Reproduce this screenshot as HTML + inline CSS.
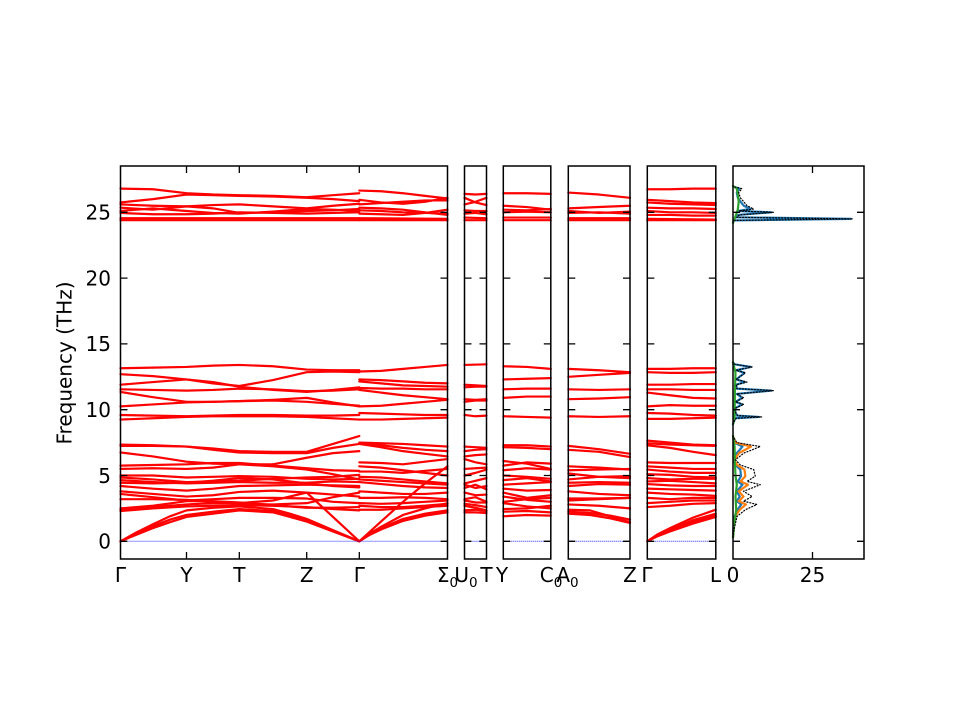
<!DOCTYPE html>
<html><head><meta charset="utf-8"><style>
html,body{margin:0;padding:0;background:#fff;}
svg{display:block;}
.d polyline{fill:none;vector-effect:non-scaling-stroke;stroke-linejoin:round;stroke-linecap:round;}
.b polyline{stroke:#ff0000;stroke-width:2.2;}
text{font-family:"DejaVu Sans","Liberation Sans",sans-serif;font-size:20px;fill:#000;}
</style></head><body>
<svg width="960" height="720" viewBox="0 0 960 720" xmlns="http://www.w3.org/2000/svg">
<rect width="960" height="720" fill="#fff"/>
<g class="d b" transform="matrix(1 0 0 -13.16 0 541.3)">
<!-- panel 1 left high -->
<polyline points="120.5,26.8 153,26.75 186.5,26.45 213,26.35 239.3,26.3 273,26.25 306.7,26.15 333,26.3 359.3,26.45"/>
<polyline points="120.5,25.75 153,26.0 186.5,26.35 213,26.3 239.3,26.25 273,26.2 306.7,26.1 333,26.0 359.3,25.85"/>
<polyline points="120.5,25.6 153,25.5 186.5,25.45 213,25.55 239.3,25.6 273,25.45 306.7,25.3 333,25.5 359.3,25.65"/>
<polyline points="120.5,25.35 153,25.2 186.5,25.45 213,25.3 239.3,24.95 273,25.0 306.7,25.1 333,25.15 359.3,25.25"/>
<polyline points="120.5,25.1 153,25.3 186.5,25.1 213,24.95 239.3,24.9 273,25.05 306.7,25.25 333,25.2 359.3,25.1"/>
<polyline points="120.5,24.95 153,24.85 186.5,24.85 213,24.9 239.3,25.0 273,24.95 306.7,24.9 333,24.95 359.3,25.0"/>
<polyline points="120.5,24.55 359.3,24.55"/>
<polyline points="120.5,24.4 359.3,24.4"/>
<!-- panel 1 right high -->
<polyline points="359.3,26.65 381,26.6 403,26.45 425,26.25 447.5,26.05"/>
<polyline points="359.3,25.95 381,25.75 403,25.65 425,25.8 447.5,26.1"/>
<polyline points="359.3,25.6 381,25.7 403,25.8 425,25.9 447.5,25.9"/>
<polyline points="359.3,25.35 381,25.3 403,25.2 425,25.0 447.5,24.8"/>
<polyline points="359.3,25.15 381,25.1 403,25.0 425,24.95 447.5,24.9"/>
<polyline points="359.3,24.9 381,24.85 403,24.8 425,24.95 447.5,25.2"/>
<polyline points="359.3,24.55 447.5,24.5"/>
<polyline points="359.3,24.4 447.5,24.4"/>
<!-- panel 1 left mid -->
<polyline points="120.5,13.15 153,13.2 186.5,13.25 213,13.35 239.3,13.4 273,13.3 306.7,13.05 333,13.0 359.3,13.0"/>
<polyline points="120.5,12.7 153,12.55 186.5,12.3 213,12.0 239.3,11.8 273,12.25 306.7,12.85 333,12.9 359.3,12.85"/>
<polyline points="120.5,11.9 153,12.1 186.5,12.3 213,12.1 239.3,11.75 273,11.5 306.7,11.35 333,11.5 359.3,11.7"/>
<polyline points="120.5,11.55 153,11.5 186.5,11.45 213,11.5 239.3,11.6 273,11.55 306.7,11.4 333,11.45 359.3,11.55"/>
<polyline points="120.5,11.35 153,10.95 186.5,10.6 213,10.6 239.3,10.65 273,10.75 306.7,10.9 333,10.55 359.3,10.25"/>
<polyline points="120.5,10.25 153,10.4 186.5,10.55 213,10.6 239.3,10.65 273,10.7 306.7,10.6 333,10.45 359.3,10.3"/>
<polyline points="120.5,9.6 153,9.55 186.5,9.5 213,9.55 239.3,9.6 273,9.6 306.7,9.55 333,9.55 359.3,9.6"/>
<polyline points="120.5,9.25 153,9.35 186.5,9.45 213,9.5 239.3,9.5 273,9.5 306.7,9.45 333,9.35 359.3,9.25"/>
<!-- panel 1 right mid -->
<polyline points="359.3,12.9 381,12.95 403,13.1 425,13.25 447.5,13.4"/>
<polyline points="359.3,12.3 381,12.25 403,12.15 425,12.05 447.5,12.0"/>
<polyline points="359.3,12.15 381,12.0 403,11.85 425,11.8 447.5,11.75"/>
<polyline points="359.3,11.65 381,11.6 403,11.6 425,11.55 447.5,11.55"/>
<polyline points="359.3,11.5 381,11.3 403,11.1 425,10.95 447.5,10.8"/>
<polyline points="359.3,10.25 381,10.3 403,10.45 425,10.6 447.5,10.75"/>
<polyline points="359.3,9.75 381,9.7 403,9.65 425,9.6 447.5,9.6"/>
<polyline points="359.3,9.25 381,9.25 403,9.3 425,9.35 447.5,9.4"/>
<!-- panel 1 left low -->
<polyline points="120.5,7.35 153,7.3 186.5,7.2 213,7.05 239.3,6.85 273,6.8 306.7,6.8 333,7.4 359.3,8.0"/>
<polyline points="120.5,7.25 153,7.25 186.5,7.2 213,6.95 239.3,6.75 273,6.7 306.7,6.7 333,7.1 359.3,7.4"/>
<polyline points="120.5,6.75 153,6.45 186.5,6.05 213,5.9 239.3,5.85 273,5.85 306.7,6.35 333,6.7 359.3,6.85"/>
<polyline points="120.5,5.75 153,5.8 186.5,5.85 213,5.95 239.3,5.95 273,5.75 306.7,5.55 333,5.4 359.3,5.35"/>
<polyline points="120.5,5.5 153,5.55 186.5,5.5 213,5.6 239.3,5.85 273,5.7 306.7,5.45 333,5.1 359.3,4.7"/>
<polyline points="120.5,5.0 153,5.0 186.5,4.85 213,4.9 239.3,4.95 273,4.9 306.7,4.75 333,4.7 359.3,4.75"/>
<polyline points="120.5,4.85 153,4.7 186.5,4.5 213,4.55 239.3,4.6 273,4.75 306.7,4.85 333,4.9 359.3,5.05"/>
<polyline points="120.5,4.65 153,4.5 186.5,4.4 213,4.45 239.3,4.5 273,4.45 306.7,4.45 333,4.55 359.3,4.5"/>
<polyline points="120.5,4.45 153,4.4 186.5,4.45 213,4.6 239.3,4.8 273,4.7 306.7,4.4 333,4.2 359.3,4.1"/>
<polyline points="120.5,4.2 153,4.0 186.5,3.85 213,4.0 239.3,4.2 273,4.25 306.7,4.3 333,4.25 359.3,4.2"/>
<polyline points="120.5,3.8 153,3.6 186.5,3.4 213,3.5 239.3,3.75 273,3.85 306.7,3.7 333,3.55 359.3,3.4"/>
<polyline points="120.5,3.6 153,3.35 186.5,3.1 213,3.2 239.3,3.3 273,3.3 306.7,3.25 333,3.0 359.3,2.9"/>
<polyline points="120.5,3.2 153,3.2 186.5,3.15 213,3.0 239.3,2.85 273,2.8 306.7,2.9 333,3.35 359.3,3.7"/>
<polyline points="120.5,2.5 153,2.7 186.5,3.05 213,3.05 239.3,2.95 273,2.75 306.7,2.55 333,2.55 359.3,2.6"/>
<polyline points="120.5,2.3 153,2.5 186.5,2.65 213,2.7 239.3,2.75 273,2.7 306.7,2.6 333,2.45 359.3,2.35"/>
<polyline points="120.5,0 137,0.7 153,1.3 170,1.9 186.5,2.35 213,2.55 239.3,2.65 273,2.45 290,2.1 306.7,1.7 333,0.85 359.3,0"/>
<polyline points="120.5,0 137,0.6 153,1.15 170,1.65 186.5,2.0 213,2.25 239.3,2.45 273,2.3 290,1.95 306.7,1.6 333,0.8 359.3,0"/>
<polyline points="120.5,0 137,0.52 153,1.0 170,1.45 186.5,1.85 213,2.1 239.3,2.35 273,2.2 290,1.85 306.7,1.5 333,0.75 359.3,0"/>
<polyline points="120.5,2.4 153,2.6 186.5,2.8 213,2.9 239.3,2.9 273,3.1 306.7,3.7 333,1.85 359.3,0"/>
<!-- panel 1 right low -->
<polyline points="359.3,7.5 381,7.45 403,7.4 425,7.3 447.5,7.2"/>
<polyline points="359.3,7.45 381,7.3 403,7.1 425,6.95 447.5,6.85"/>
<polyline points="359.3,7.4 381,7.15 403,6.85 425,6.65 447.5,6.45"/>
<polyline points="359.3,6.0 381,5.95 403,5.85 425,6.05 447.5,6.25"/>
<polyline points="359.3,5.7 381,5.6 403,5.4 425,5.2 447.5,5.0"/>
<polyline points="359.3,5.3 381,5.3 403,5.2 425,5.35 447.5,5.5"/>
<polyline points="359.3,4.9 381,4.85 403,4.7 425,4.55 447.5,4.4"/>
<polyline points="359.3,4.7 381,4.6 403,4.5 425,4.4 447.5,4.3"/>
<polyline points="359.3,4.5 381,4.35 403,4.2 425,4.1 447.5,4.05"/>
<polyline points="359.3,3.8 381,3.7 403,3.6 425,3.6 447.5,3.7"/>
<polyline points="359.3,3.3 381,3.3 403,3.35 425,3.3 447.5,3.2"/>
<polyline points="359.3,2.9 381,2.85 403,2.9 425,3.0 447.5,3.1"/>
<polyline points="359.3,2.7 381,2.6 403,2.6 425,2.7 447.5,2.85"/>
<polyline points="359.3,2.4 381,2.4 403,2.5 425,2.6 447.5,2.7"/>
<polyline points="359.3,0 381,1.5 403,3.0 425,4.4 447.5,5.7"/>
<polyline points="359.3,0 370,0.55 381,1.0 403,1.7 425,2.1 447.5,2.35"/>
<polyline points="359.3,0 370,0.5 381,0.9 403,1.55 425,1.95 447.5,2.2"/>
<polyline points="359.3,0 370,0.6 381,1.1 403,2.0 425,2.5 447.5,2.9"/>
<!-- panel 2 -->
<polyline points="464.5,26.4 475.5,26.35 486.5,26.4"/>
<polyline points="464.5,26.1 475.5,25.75 486.5,25.55"/>
<polyline points="464.5,25.6 475.5,25.8 486.5,26.1"/>
<polyline points="464.5,25.15 475.5,25.1 486.5,25.1"/>
<polyline points="464.5,24.9 475.5,24.95 486.5,24.85"/>
<polyline points="464.5,24.6 486.5,24.55"/>
<polyline points="464.5,24.4 486.5,24.4"/>
<polyline points="464.5,13.4 486.5,13.45"/>
<polyline points="464.5,11.9 475.5,11.85 486.5,11.8"/>
<polyline points="464.5,11.7 475.5,11.75 486.5,11.75"/>
<polyline points="464.5,10.8 475.5,10.75 486.5,10.8"/>
<polyline points="464.5,10.6 475.5,10.7 486.5,10.7"/>
<polyline points="464.5,9.6 475.5,9.5 486.5,9.55"/>
<polyline points="464.5,7.2 475.5,7.15 486.5,7.1"/>
<polyline points="464.5,6.85 475.5,6.95 486.5,7.0"/>
<polyline points="464.5,6.45 475.5,6.55 486.5,6.6"/>
<polyline points="464.5,6.25 475.5,6.0 486.5,5.85"/>
<polyline points="464.5,5.5 475.5,5.55 486.5,5.6"/>
<polyline points="464.5,5.0 475.5,5.2 486.5,5.45"/>
<polyline points="464.5,4.4 475.5,4.6 486.5,4.8"/>
<polyline points="464.5,4.3 475.5,4.05 486.5,4.2"/>
<polyline points="464.5,4.05 475.5,4.3 486.5,3.95"/>
<polyline points="464.5,3.7 475.5,3.5 486.5,3.55"/>
<polyline points="464.5,3.2 475.5,3.35 486.5,3.0"/>
<polyline points="464.5,3.1 475.5,2.95 486.5,2.95"/>
<polyline points="464.5,2.85 475.5,2.75 486.5,2.6"/>
<polyline points="464.5,2.7 475.5,2.55 486.5,2.35"/>
<polyline points="464.5,2.35 475.5,2.4 486.5,2.3"/>
<polyline points="464.5,2.2 475.5,2.2 486.5,2.15"/>
<!-- panel 3 -->
<polyline points="503.3,26.45 527,26.45 550.8,26.4"/>
<polyline points="503.3,25.5 527,25.4 550.8,25.2"/>
<polyline points="503.3,25.2 527,25.15 550.8,25.25"/>
<polyline points="503.3,25.0 527,25.05 550.8,25.0"/>
<polyline points="503.3,24.6 550.8,24.6"/>
<polyline points="503.3,24.4 550.8,24.4"/>
<polyline points="503.3,13.3 527,13.25 550.8,13.1"/>
<polyline points="503.3,12.3 527,12.35 550.8,12.4"/>
<polyline points="503.3,11.55 527,11.6 550.8,11.6"/>
<polyline points="503.3,10.9 527,11.0 550.8,11.0"/>
<polyline points="503.3,9.5 527,9.45 550.8,9.4"/>
<polyline points="503.3,7.3 527,7.3 550.8,7.2"/>
<polyline points="503.3,7.15 527,7.1 550.8,7.0"/>
<polyline points="503.3,6.1 527,5.9 550.8,5.5"/>
<polyline points="503.3,5.75 527,6.0 550.8,5.9"/>
<polyline points="503.3,5.4 527,5.55 550.8,5.45"/>
<polyline points="503.3,5.0 527,4.9 550.8,4.75"/>
<polyline points="503.3,4.65 527,4.8 550.8,4.55"/>
<polyline points="503.3,4.3 527,4.4 550.8,4.5"/>
<polyline points="503.3,4.0 527,3.85 550.8,3.9"/>
<polyline points="503.3,3.7 527,3.3 550.8,3.5"/>
<polyline points="503.3,3.4 527,3.15 550.8,3.0"/>
<polyline points="503.3,3.0 527,3.2 550.8,3.3"/>
<polyline points="503.3,2.9 527,2.65 550.8,2.5"/>
<polyline points="503.3,2.45 527,2.5 550.8,2.7"/>
<polyline points="503.3,2.25 527,2.3 550.8,2.2"/>
<polyline points="503.3,1.9 527,2.0 550.8,1.95"/>
<!-- panel 4 -->
<polyline points="568.3,26.5 599,26.35 630,26.1"/>
<polyline points="568.3,25.3 599,25.4 630,25.5"/>
<polyline points="568.3,25.1 599,24.95 630,25.05"/>
<polyline points="568.3,24.95 599,25.0 630,24.9"/>
<polyline points="568.3,24.55 630,24.55"/>
<polyline points="568.3,24.4 630,24.4"/>
<polyline points="568.3,13.1 599,13.0 630,12.85"/>
<polyline points="568.3,12.5 599,12.65 630,12.8"/>
<polyline points="568.3,11.55 599,11.5 630,11.55"/>
<polyline points="568.3,10.8 599,10.85 630,10.95"/>
<polyline points="568.3,9.5 599,9.45 630,9.5"/>
<polyline points="568.3,7.25 599,7.0 630,6.65"/>
<polyline points="568.3,6.95 599,6.8 630,6.4"/>
<polyline points="568.3,5.7 599,5.6 630,5.45"/>
<polyline points="568.3,5.4 599,5.45 630,5.5"/>
<polyline points="568.3,5.15 599,4.9 630,4.8"/>
<polyline points="568.3,4.7 599,4.9 630,4.95"/>
<polyline points="568.3,4.45 599,4.5 630,4.45"/>
<polyline points="568.3,4.2 599,4.35 630,4.3"/>
<polyline points="568.3,3.8 599,3.6 630,3.5"/>
<polyline points="568.3,3.25 599,3.25 630,3.3"/>
<polyline points="568.3,3.1 599,3.2 630,3.3"/>
<polyline points="568.3,2.8 599,2.7 630,2.5"/>
<polyline points="568.3,2.4 590,2.35 610,1.9 630,1.45"/>
<polyline points="568.3,2.25 590,2.15 610,1.95 630,1.65"/>
<polyline points="568.3,2.1 590,2.0 610,1.75 630,1.4"/>
<!-- panel 5 -->
<polyline points="647.3,26.75 670,26.75 693,26.8 715.8,26.8"/>
<polyline points="647.3,25.95 670,25.85 693,25.75 715.8,25.7"/>
<polyline points="647.3,25.75 670,25.65 693,25.6 715.8,25.55"/>
<polyline points="647.3,25.35 670,25.3 693,25.3 715.8,25.25"/>
<polyline points="647.3,25.1 670,25.0 693,25.0 715.8,24.95"/>
<polyline points="647.3,24.8 670,24.8 693,24.75 715.8,24.75"/>
<polyline points="647.3,24.5 715.8,24.45"/>
<polyline points="647.3,24.4 715.8,24.4"/>
<polyline points="647.3,13.1 670,13.1 693,13.15 715.8,13.15"/>
<polyline points="647.3,12.85 670,12.8 693,12.8 715.8,12.85"/>
<polyline points="647.3,11.9 670,11.9 693,11.95 715.8,11.95"/>
<polyline points="647.3,11.55 670,11.55 693,11.5 715.8,11.5"/>
<polyline points="647.3,11.3 670,11.1 693,10.9 715.8,10.85"/>
<polyline points="647.3,10.25 670,10.35 693,10.3 715.8,10.3"/>
<polyline points="647.3,9.75 670,9.7 693,9.6 715.8,9.55"/>
<polyline points="647.3,9.3 670,9.3 693,9.35 715.8,9.4"/>
<polyline points="647.3,7.65 670,7.5 693,7.35 715.8,7.3"/>
<polyline points="647.3,7.45 670,7.35 693,7.3 715.8,7.25"/>
<polyline points="647.3,7.3 670,7.1 693,6.8 715.8,6.55"/>
<polyline points="647.3,6.0 670,5.95 693,5.95 715.8,5.95"/>
<polyline points="647.3,5.7 670,5.6 693,5.5 715.8,5.5"/>
<polyline points="647.3,5.45 670,5.3 693,5.2 715.8,5.2"/>
<polyline points="647.3,5.1 670,5.05 693,4.9 715.8,4.85"/>
<polyline points="647.3,4.8 670,4.7 693,4.75 715.8,4.75"/>
<polyline points="647.3,4.55 670,4.6 693,4.5 715.8,4.4"/>
<polyline points="647.3,4.35 670,4.25 693,4.2 715.8,4.2"/>
<polyline points="647.3,4.0 670,3.95 693,3.9 715.8,3.85"/>
<polyline points="647.3,3.7 670,3.6 693,3.55 715.8,3.45"/>
<polyline points="647.3,3.3 670,3.2 693,3.3 715.8,3.3"/>
<polyline points="647.3,2.9 670,3.0 693,3.1 715.8,3.1"/>
<polyline points="647.3,2.6 670,2.7 693,2.85 715.8,2.9"/>
<polyline points="647.3,0 658,0.5 670,0.9 693,1.6 715.8,2.1"/>
<polyline points="647.3,0 658,0.45 670,0.85 693,1.5 715.8,1.95"/>
<polyline points="647.3,0 658,0.4 670,0.75 693,1.35 715.8,1.85"/>
<polyline points="647.3,0 658,0.55 670,1.0 693,1.8 715.8,2.4"/>
</g>
<!-- zero dotted lines -->
<g stroke="#0000ff" stroke-width="1" stroke-dasharray="1 1" opacity="0.85">
<line x1="120.5" y1="541.3" x2="447.5" y2="541.3"/>
<line x1="464.5" y1="541.3" x2="486.5" y2="541.3"/>
<line x1="503.3" y1="541.3" x2="550.8" y2="541.3"/>
<line x1="568.3" y1="541.3" x2="630" y2="541.3"/>
<line x1="647.3" y1="541.3" x2="715.8" y2="541.3"/>
</g>
<!-- DOS -->
<g class="d" transform="matrix(1 0 0 -13.16 0 541.3)">
<g stroke="#1f77b4" stroke-width="2.2">
<polyline points="733,0.3 733.3,0.9 734.6,1.9 737.5,2.4 741.3,2.8 736.8,3.05 739.7,3.4 736.8,3.8 742.5,4.3 737.8,4.55 741,4.95 740.3,5.45 735.5,5.8 734,6.2 736.8,6.7 742.5,7.2 734.3,7.5 733,8.0"/>
<polyline points="733,8.9 734.5,9.2 735.5,9.35 759,9.45 737,9.55 735.5,9.8 734.9,10.1 742.2,10.4 735.5,10.6 742.2,10.9 736.8,11.2 771,11.45 736.8,11.6 736.2,11.9 745,12.1 736.2,12.3 744.5,12.8 736.2,13.0 751,13.25 734.5,13.45 733,13.6"/>
<polyline points="733,24.2 733.6,24.38 850.7,24.5 736.2,24.62 738.1,24.8 771.2,25.0 738,25.1 750.5,25.25 743.8,25.5 740.6,25.8 737.8,26.1 736.8,26.5 739.4,26.8 733.6,26.95 733,27"/>
</g>
<g stroke="#ff7f0e" stroke-width="2.2">
<polyline points="733,0.3 733.6,0.9 735.2,1.9 739.7,2.4 746,2.8 738.7,3.05 743.5,3.4 738.7,3.8 748,4.3 740.6,4.55 745.4,4.95 744.4,5.45 737.1,5.8 734.3,6.2 739,6.7 751,7.2 735.2,7.5 733,8.0"/>
</g>
<g stroke="#2ca02c" stroke-width="2.2">
<polyline points="733,0.3 734.6,1.5 736.2,2.4 735.5,3.4 736.8,4.3 735.5,5.0 734.9,6.0 734.6,7.2 733,8.0"/>
<polyline points="733,8.9 734.6,9.4 734.9,11.4 735.5,12.8 734.3,13.2 733,13.6"/>
<polyline points="733,24.2 734.6,24.5 737.8,25.2 738.7,25.8 737.8,26.4 736.8,26.8 733,27"/>
</g>
<g stroke="#000" stroke-width="1.2" stroke-dasharray="1 2">
<polyline points="733,0.3 734,0.9 737.1,1.9 745.4,2.4 756.9,2.8 743.5,3.05 752.1,3.4 743.5,3.8 760.3,4.3 747,4.55 755.3,4.95 753.7,5.45 740.3,5.8 735.5,6.2 743.8,6.7 760.3,7.2 736.8,7.5 733,8.0"/>
<polyline points="733,8.9 734.6,9.2 736.2,9.35 762,9.45 737.8,9.55 735.5,9.8 734.9,10.1 743.8,10.4 735.5,10.6 743.8,10.9 736.8,11.2 773.7,11.45 736.8,11.6 736.2,11.9 747,12.1 736.2,12.3 745.4,12.8 736.2,13.0 752.1,13.25 734.6,13.45 733,13.6"/>
<polyline points="733,24.2 733.6,24.38 852.9,24.5 736.8,24.62 739.4,24.8 773.7,25.0 739,25.1 753.7,25.25 747,25.5 743.8,25.8 740.3,26.1 738.7,26.5 741.9,26.8 733.6,26.95 733,27"/>
</g>
</g>
<!-- frames -->
<g fill="none" stroke="#000" stroke-width="1.5">
<rect x="120.5" y="166" width="327" height="393"/>
<rect x="464.5" y="166" width="22" height="393"/>
<rect x="503.3" y="166" width="47.5" height="393"/>
<rect x="568.3" y="166" width="61.7" height="393"/>
<rect x="647.3" y="166" width="68.5" height="393"/>
<rect x="733" y="166" width="131" height="393"/>
</g>
<!-- ticks -->
<g fill="none" stroke="#000" stroke-width="1.3">
<path d="M120.5 541.3h7M447.5 541.3h-7M120.5 475.5h7M447.5 475.5h-7M120.5 409.7h7M447.5 409.7h-7M120.5 343.9h7M447.5 343.9h-7M120.5 278.1h7M447.5 278.1h-7M120.5 212.3h7M447.5 212.3h-7"/>
<path d="M186.5 559v-7M186.5 166v7M239.3 559v-7M239.3 166v7M306.7 559v-7M306.7 166v7M359.3 559v-7M359.3 166v7"/>
<path d="M464.5 541.3h7M486.5 541.3h-7M464.5 475.5h7M486.5 475.5h-7M464.5 409.7h7M486.5 409.7h-7M464.5 343.9h7M486.5 343.9h-7M464.5 278.1h7M486.5 278.1h-7M464.5 212.3h7M486.5 212.3h-7"/>
<path d="M503.3 541.3h7M550.8 541.3h-7M503.3 475.5h7M550.8 475.5h-7M503.3 409.7h7M550.8 409.7h-7M503.3 343.9h7M550.8 343.9h-7M503.3 278.1h7M550.8 278.1h-7M503.3 212.3h7M550.8 212.3h-7"/>
<path d="M568.3 541.3h7M630 541.3h-7M568.3 475.5h7M630 475.5h-7M568.3 409.7h7M630 409.7h-7M568.3 343.9h7M630 343.9h-7M568.3 278.1h7M630 278.1h-7M568.3 212.3h7M630 212.3h-7"/>
<path d="M647.3 541.3h7M715.8 541.3h-7M647.3 475.5h7M715.8 475.5h-7M647.3 409.7h7M715.8 409.7h-7M647.3 343.9h7M715.8 343.9h-7M647.3 278.1h7M715.8 278.1h-7M647.3 212.3h7M715.8 212.3h-7"/>
<path d="M733 541.3h7M864 541.3h-7M733 475.5h7M864 475.5h-7M733 409.7h7M864 409.7h-7M733 343.9h7M864 343.9h-7M733 278.1h7M864 278.1h-7M733 212.3h7M864 212.3h-7M812.5 559v-7M812.5 166v7"/>
</g>
<!-- y tick labels -->
<g text-anchor="end">
<text x="111" y="548.6">0</text>
<text x="111" y="482.8">5</text>
<text x="111" y="417">10</text>
<text x="111" y="351.2">15</text>
<text x="111" y="285.4">20</text>
<text x="111" y="219.6">25</text>
</g>
<text transform="translate(71.5,363) rotate(-90)" text-anchor="middle">Frequency (THz)</text>
<!-- x labels -->
<g text-anchor="middle">
<text x="120.5" y="582">Γ</text>
<text x="186.5" y="582">Y</text>
<text x="239.3" y="582">T</text>
<text x="306.7" y="582">Z</text>
<text x="359.3" y="582">Γ</text>
<text x="447.5" y="582">Σ<tspan font-size="13.5" dy="5">0</tspan></text>
<text x="466" y="582">U<tspan font-size="13.5" dy="5">0</tspan></text>
<text x="486.5" y="582">T</text>
<text x="502" y="582">Y</text>
<text x="551" y="582">C<tspan font-size="13.5" dy="5">0</tspan></text>
<text x="567.5" y="582">A<tspan font-size="13.5" dy="5">0</tspan></text>
<text x="630" y="582">Z</text>
<text x="647" y="582">Γ</text>
<text x="715.5" y="582">L</text>
<text x="733" y="582">0</text>
<text x="812.5" y="582">25</text>
</g>
</svg>
</body></html>
